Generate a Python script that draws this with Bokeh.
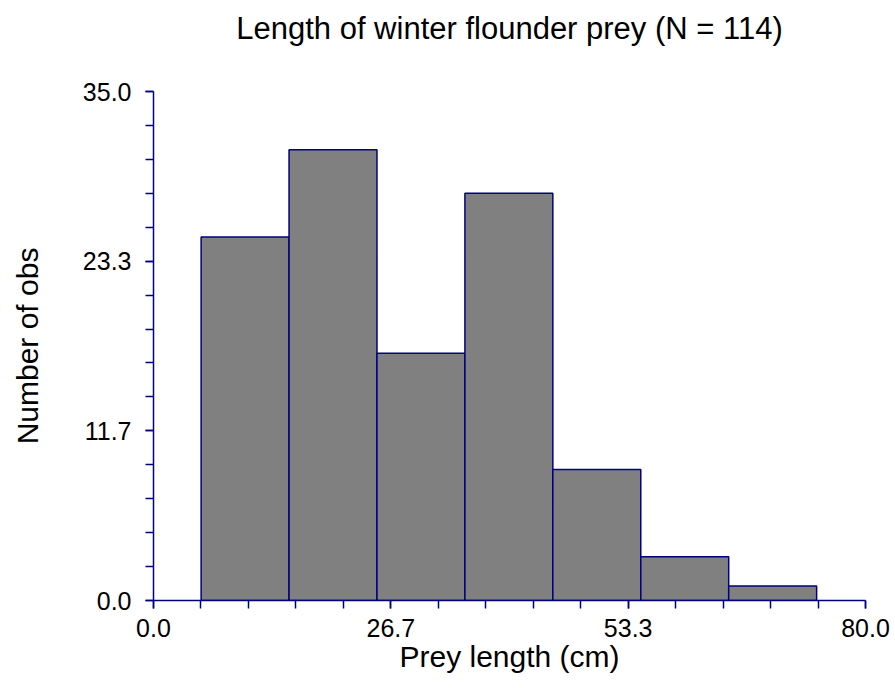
from bokeh.plotting import figure
from bokeh.models import Range1d, FixedTicker, PrintfTickFormatter, LinearAxis
from bokeh.embed import file_html
from bokeh.resources import INLINE

# Histogram of prey lengths: bin edges (cm) and counts per bin
bin_left = [5.35, 15.23, 25.11, 34.99, 44.87, 54.75, 64.63]
bin_right = [15.23, 25.11, 34.99, 44.87, 54.75, 64.63, 74.51]
counts = [25, 31, 17, 28, 9, 3, 1]

x_major = [0.0, 80 / 3, 160 / 3, 80.0]
x_minor = [i * 80 / 15 for i in range(16)]
y_major = [0.0, 35 / 3, 70 / 3, 35.0]
y_minor = [i * 35 / 15 for i in range(16)]

TITLE = "Length of winter flounder prey (N = 114)"
FONT = "Liberation Sans"
NAVY = "#000080"

p = figure(
    width=895, height=688,
    x_range=Range1d(0, 80), y_range=Range1d(0, 35),
    output_backend="svg", toolbar_location=None,
    x_axis_label="Prey length (cm)", y_axis_label="Number of obs",
    min_border_left=153, min_border_right=30,
    min_border_top=91, min_border_bottom=88,
)
p.outline_line_color = None
p.xgrid.visible = False
p.ygrid.visible = False
p.background_fill_color = "white"
p.border_fill_color = "white"

p.quad(left=bin_left, right=bin_right, top=counts, bottom=0,
       fill_color="#808080", line_color=NAVY, line_width=1.5)

xax = p.below[0]
yax = p.left[0]
for ax, major, minor in ((xax, x_major, x_minor), (yax, y_major, y_minor)):
    ax.ticker = FixedTicker(ticks=major, minor_ticks=minor)
    ax.formatter = PrintfTickFormatter(format="%.1f")
    ax.axis_line_color = NAVY
    ax.axis_line_width = 1.5
    ax.major_tick_line_color = NAVY
    ax.minor_tick_line_color = NAVY
    ax.major_tick_line_width = 1.5
    ax.minor_tick_line_width = 1.5
    ax.major_tick_in = 0
    ax.major_tick_out = 8
    ax.minor_tick_in = 0
    ax.minor_tick_out = 8
    ax.major_label_text_font = FONT
    ax.major_label_text_font_size = "25px"
    ax.major_label_text_color = "black"
    ax.axis_label_text_font = FONT
    ax.axis_label_text_font_size = "30px"
    ax.axis_label_text_font_style = "normal"
    ax.axis_label_text_color = "black"

xax.major_label_standoff = 10
yax.major_label_standoff = 14
xax.axis_label_standoff = 0
yax.axis_label_standoff = 36

# Chart heading: a bare top axis whose label sits centred over the frame
head = LinearAxis(
    axis_label=TITLE, ticker=FixedTicker(ticks=[]),
    axis_line_color=None, major_tick_line_color=None, minor_tick_line_color=None,
    major_tick_in=0, major_tick_out=0, minor_tick_in=0, minor_tick_out=0,
    major_label_standoff=0, major_label_text_font_size="0px",
    axis_label_text_font=FONT, axis_label_text_font_size="31px",
    axis_label_text_font_style="normal", axis_label_text_color="black",
    axis_label_standoff=46,
)
p.add_layout(head, "above")

open("out.html", "w").write(file_html(p, INLINE))
